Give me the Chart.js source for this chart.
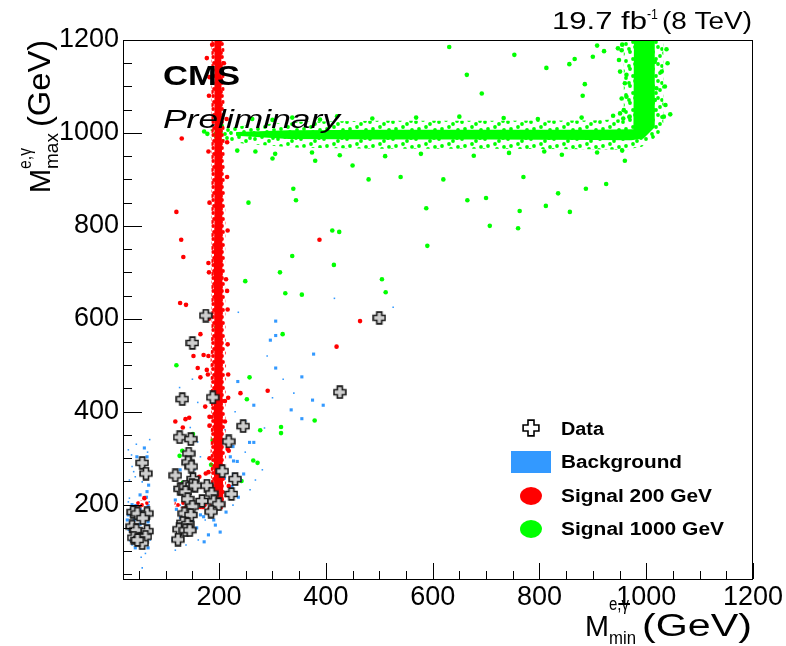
<!DOCTYPE html>
<html><head><meta charset="utf-8">
<script src="https://cdn.jsdelivr.net/npm/chart.js@4"></script>
<style>html,body{margin:0;padding:0;background:#fff;}#wrap{width:786px;height:646px;}</style>
</head><body><div id="wrap"><canvas id="c" width="786" height="646"></canvas></div>
<script>
const xTicks=[200,400,600,800,1000,1200];
const yTicks=[200,400,600,800,1000,1200];
const dataEvents=[[175,607],[150,548],[131,427],[188,431],[245,369],[126,345],[147,341],[218,336],[143,310],[56,290],[142,291],[148,282],[63,267],[206,272],[118,263],[151,255],[230,255],[127,234],[177,241],[137,239],[149,242],[155,241],[137,227],[141,212],[186,224],[223,223],[168,208],[190,207],[199,201],[150,196],[185,185],[135,181],[147,178],[132,161],[141,158],[125,147],[137,145],[145,145],[123,125],[39,184],[47,181],[65,181],[57,171],[37,153],[45,145],[65,143],[40,129],[51,126],[62,131],[56,117],[47,124],[500,602],[426,442]];
const bgLarge=[[306,595],[306,564],[296,554],[377,524],[306,494],[355,475],[235,465],[375,425],[395,414],[335,404],[355,385],[265,414],[257,334],[265,334],[226,325],[221,303],[227,294],[234,293],[227,265],[246,266],[224,239],[190,167],[171,174],[114,125],[46,303],[65,303],[68,242],[65,228],[67,198],[44,198],[67,163],[67,145],[34,124],[67,107],[28,167],[69,178],[60,322],[52,221],[64,216],[41,167],[52,158],[67,154],[58,115],[43,107],[66,132],[118,210],[165,178],[193,156],[202,141],[180,135],[213,184],[236,216],[127,275],[210,257],[240,253],[37,200],[52,190],[30,178],[60,140],[48,136],[120,190],[128,172],[150,165],[158,150],[172,120]];
const bgSmall=[[160,335],[165,303],[126,452],[146,366],[114,264],[116,234],[121,117],[37,282],[40,271],[43,260],[34,191],[37,113],[54,87],[56,64],[32,214],[71,124],[416,644],[526,625],[236,614],[30,318],[36,307],[66,313],[32,253],[56,249],[30,206],[69,206],[30,145],[127,199],[157,193],[174,167],[161,124],[138,113],[118,102],[226,199],[137,285],[155,275],[189,279],[249,313],[191,339],[211,361],[268,253],[281,275],[258,232],[290,520],[320,470],[340,440],[300,430],[250,380],[230,400],[285,365],[160,420],[150,470],[45,330],[70,340],[62,95]];
const sig200Core=[[191,205],[190,300],[190,400],[191,500],[191,600],[190,700],[191,800],[191,900],[191,1000],[191,1100],[192,1200],[204,1200],[205,1100],[205,1000],[206,900],[206,800],[206,700],[207,600],[207,500],[207,400],[207,300],[208,205]];
const sig200Halo=[[186,195],[184,300],[185,400],[184,500],[186,600],[185,700],[186,800],[186,900],[185,1000],[186,1100],[186,1200],[210,1200],[211,1100],[210,1000],[211,900],[212,800],[211,700],[212,600],[213,500],[212,400],[213,300],[213,195]];
const sig200Low=[[116,197],[130,193],[150,191],[170,190],[190,188],[210,190],[210,212],[190,210],[170,209],[150,208],[130,209],[117,206]];
const sig200LeftLow=[[44,196],[55,194],[68,195],[68,206],[55,209],[44,207]];
const sig200Pts=[[165,567],[152,520],[171,522],[160,494],[165,474],[177,490],[174,411],[182,389],[118,379],[132,366],[144,387],[137,384],[240,440],[291,445],[218,316],[163,260],[175,267],[213,685],[464,595],[420,540],[211,423],[211,379],[177,1161],[130,988],[120,830],[129,770],[133,733],[127,634],[138,630],[388,770],[60,214],[48,190],[187,1190],[209,1150],[181,1080],[214,1030],[180,960],[215,905],[182,850],[216,790],[180,720],[215,660],[181,600],[216,545],[179,480],[217,430],[182,370],[216,320],[180,270],[218,240],[182,1120],[215,980],[181,700],[216,620],[180,520],[217,480],[182,300]];
const sig1000Core=[[232,994],[330,987],[500,986],[700,986],[900,985],[972,984],[995,988],[1016,1012],[1016,1200],[977,1200],[976,1008],[900,1007],[700,1007],[500,1007],[330,1006],[232,1002]];
const sig1000Halo=[[183,989],[250,976],[350,968],[500,966],[700,966],[900,965],[960,964],[992,970],[1024,995],[1032,1020],[1032,1200],[958,1200],[958,1030],[900,1027],[700,1026],[500,1026],[350,1024],[250,1016],[183,1007]];
const sig1000Pts=[[631,1185],[753,1168],[664,1125],[813,1140],[856,1148],[866,1159],[900,1164],[908,1188],[921,1176],[885,1105],[881,1080],[692,1085],[947,1182],[954,1178],[949,1157],[951,1132],[963,1125],[960,1107],[954,1074],[958,1049],[951,1042],[938,1037],[969,1035],[963,1078],[1029,1132],[1016,1153],[1019,1096],[1033,1035],[1013,1049],[1016,1071],[1036,1060],[1040,1150],[1035,1100],[1038,1180],[955,1190],[1045,1040],
[337,735],[415,716],[314,700],[249,681],[324,655],[355,652],[512,657],[319,567],[257,474],[252,427],[379,381],[277,360],[316,367],[316,354],[195,582],[120,500],[151,352],[131,316],[126,305],[188,338],[264,295],[272,290],[185,286],[132,247],[242,251],
[339,880],[344,855],[255,850],[412,790],[425,787],[505,685],[588,838],[590,757],[665,855],[700,860],[707,800],[760,795],[763,832],[812,843],[835,870],[857,830],[887,880],[925,890],[480,900],[540,905],[620,900],[770,905],[450,930],[380,940],[300,945],[960,940],
[205,1015],[262,1030],[300,1028],[337,1033],[389,1029],[421,1036],[487,1031],[569,1033],[650,1035],[733,1032],[797,1030],[879,1033],[957,1031],
[234,962],[268,960],[305,955],[374,958],[426,952],[511,950],[578,955],[677,951],[743,957],[809,960],[842,953],[908,958],[955,962],[178,998],[172,1003]];

const toXY=a=>a.map(([x,y])=>({x,y}));
function makeCross(size,arm,fill,stroke,lw){
  const c=document.createElement('canvas');c.width=c.height=size;const g=c.getContext('2d');
  const h=size/2,a=arm/2,e=h-lw/2-0.3;
  g.beginPath();g.moveTo(h-a,h-e);g.lineTo(h+a,h-e);g.lineTo(h+a,h-a);g.lineTo(h+e,h-a);g.lineTo(h+e,h+a);g.lineTo(h+a,h+a);g.lineTo(h+a,h+e);g.lineTo(h-a,h+e);g.lineTo(h-a,h+a);g.lineTo(h-e,h+a);g.lineTo(h-e,h-a);g.lineTo(h-a,h-a);g.closePath();
  g.fillStyle=fill;g.fill();g.lineWidth=lw;g.strokeStyle=stroke;g.stroke();return c;
}
function speckle(color,w,h,spots,r){
  const c=document.createElement('canvas');c.width=w;c.height=h;const g=c.getContext('2d');
  g.fillStyle=color;
  for(const [sx,sy] of spots){for(const dx of [-w,0,w])for(const dy of [-h,0,h]){g.beginPath();g.arc(sx+dx,sy+dy,r,0,Math.PI*2);g.fill();}}
  return g.createPattern(c,'repeat');
}
const greenSpeck=speckle('#00ff00',23,17,[[2,3],[9,1],[16,5],[21,11],[5,10],[12,8],[18,15],[8,15],[14,13],[1,14],[20,2]],1.9);
const redSpeck=speckle('#ff0000',9,13,[[2,2],[6,5],[3,9],[7,11],[5,1]],1.9);
const crossData=makeCross(14,5,'#cfcfcf','#1a1a1a',1.6);
const crossLeg=makeCross(18,6,'#ffffff','#000000',1.6);
const FONT='"Liberation Sans", Arial, Helvetica, sans-serif';
function fitText(ctx,t,font,left,right,base){ctx.font=font;const w=ctx.measureText(t).width;ctx.save();ctx.translate(left,base);ctx.scale((right-left)/w,1);ctx.fillText(t,0,0);ctx.restore();}

const deco={id:'deco',afterDraw(chart){
  const ctx=chart.ctx,a=chart.chartArea,xs=chart.scales.x,ys=chart.scales.y;
  ctx.save();ctx.strokeStyle='#000';ctx.lineWidth=1;
  ctx.strokeRect(a.left+0.5,a.top+0.5,a.right-a.left-1,a.bottom-a.top);
  ctx.beginPath();
  for(let v=50;v<=1200;v+=50){if(v<xs.min)continue;const p=Math.round(xs.getPixelForValue(v))+0.5;const L=(v%200===0)?16:8;ctx.moveTo(p,a.bottom);ctx.lineTo(p,a.bottom-L);}
  for(let v=50;v<=1200;v+=50){if(v<ys.min)continue;const p=Math.round(ys.getPixelForValue(v))+0.5;const L=(v%200===0)?19:9;ctx.moveTo(a.left,p);ctx.lineTo(a.left+L,p);}
  ctx.stroke();
  ctx.fillStyle='#000';ctx.textAlign='left';ctx.textBaseline='alphabetic';
  fitText(ctx,'M','30px '+FONT,585,609,636);
  fitText(ctx,'e,\u03b3','18px '+FONT,609,629,610);
  fitText(ctx,'min','18px '+FONT,609,636,644);
  fitText(ctx,'(GeV)','31px '+FONT,642,752,636);
  ctx.save();ctx.translate(50,193);ctx.rotate(-Math.PI/2);
  fitText(ctx,'M','29px '+FONT,0,24,0);
  fitText(ctx,'e,\u03b3','18px '+FONT,24,45,-19);
  fitText(ctx,'max','18px '+FONT,24,60,8);
  fitText(ctx,'(GeV)','31px '+FONT,66,153,0);
  ctx.restore();
  fitText(ctx,'19.7 fb','23px '+FONT,552,647,29);
  fitText(ctx,'-1','15px '+FONT,647,658,19);
  fitText(ctx,'(8 TeV)','23px '+FONT,662,752,29);
  fitText(ctx,'CMS','bold 28px '+FONT,163,240,85);
  fitText(ctx,'Preliminary','italic 25px '+FONT,163,340,128);
  ctx.drawImage(crossLeg,531-9,428-9);
  ctx.fillStyle='#3399ff';ctx.fillRect(511,451,40,22);
  ctx.fillStyle='#ff0000';ctx.beginPath();ctx.ellipse(531,496,11,9,0,0,Math.PI*2);ctx.fill();
  ctx.fillStyle='#00ff00';ctx.beginPath();ctx.ellipse(531,529,11,9,0,0,Math.PI*2);ctx.fill();
  ctx.fillStyle='#000';
  fitText(ctx,'Data','bold 18px '+FONT,561,604,435);
  fitText(ctx,'Background','bold 18px '+FONT,561,682,468);
  fitText(ctx,'Signal 200 GeV','bold 18px '+FONT,561,712,502);
  fitText(ctx,'Signal 1000 GeV','bold 18px '+FONT,561,724,535);
  ctx.restore();
}};

new Chart(document.getElementById('c'),{
  type:'scatter',
  data:{datasets:[
    {label:'Data',data:toXY(dataEvents),pointStyle:crossData,pointRadius:7,borderWidth:0,order:0},
    {label:'Signal 200 GeV',data:toXY(sig200Pts),backgroundColor:'#ff0000',borderWidth:0,pointRadius:2.3,order:1},
    {label:'Signal 200 core',data:toXY(sig200Core),showLine:true,fill:'shape',backgroundColor:'#ff0000',borderWidth:0,pointRadius:0,order:2},
    {label:'Signal 200 halo',data:toXY(sig200Halo),showLine:true,fill:'shape',backgroundColor:redSpeck,borderWidth:0,pointRadius:0,order:3},
    {label:'Signal 200 low',data:toXY(sig200Low),showLine:true,fill:'shape',backgroundColor:redSpeck,borderWidth:0,pointRadius:0,order:2},
    {label:'Signal 200 left',data:toXY(sig200LeftLow),showLine:true,fill:'shape',backgroundColor:redSpeck,borderWidth:0,pointRadius:0,order:2},
    {label:'Background',data:toXY(bgLarge),pointStyle:'rect',backgroundColor:'#3399ff',borderWidth:0,pointRadius:2.2,order:4},
    {label:'Background small',data:toXY(bgSmall),pointStyle:'rect',backgroundColor:'#3399ff',borderWidth:0,pointRadius:1.1,order:5},
    {label:'Signal 1000 GeV',data:toXY(sig1000Pts),backgroundColor:'#00ff00',borderWidth:0,pointRadius:2.3,order:6},
    {label:'Signal 1000 core',data:toXY(sig1000Core),showLine:true,fill:'shape',backgroundColor:'#00ff00',borderWidth:0,pointRadius:0,order:7},
    {label:'Signal 1000 halo',data:toXY(sig1000Halo),showLine:true,fill:'shape',backgroundColor:greenSpeck,borderWidth:0,pointRadius:0,order:8}
  ]},
  options:{
    responsive:false,animation:false,devicePixelRatio:1,
    layout:{padding:{top:40,right:33,left:0,bottom:0}},
    plugins:{legend:{display:false},tooltip:{enabled:false}},
    scales:{
      x:{type:'linear',min:20,max:1200,
        afterBuildTicks:s=>{s.ticks=xTicks.map(v=>({value:v}));},
        afterFit:s=>{s.height=67;},
        grid:{display:false,drawTicks:false},border:{display:false},
        ticks:{color:'#000',font:{family:FONT,size:27},padding:2,maxRotation:0,autoSkip:false,callback:v=>String(v)}},
      y:{type:'linear',min:40,max:1200,
        afterBuildTicks:s=>{s.ticks=yTicks.map(v=>({value:v}));},
        afterFit:s=>{s.width=123;},
        grid:{display:false,drawTicks:false},border:{display:false},
        ticks:{color:'#000',font:{family:FONT,size:27},padding:4,autoSkip:false,callback:v=>String(v)}}
    }
  },
  plugins:[deco]
});
</script></body></html>
